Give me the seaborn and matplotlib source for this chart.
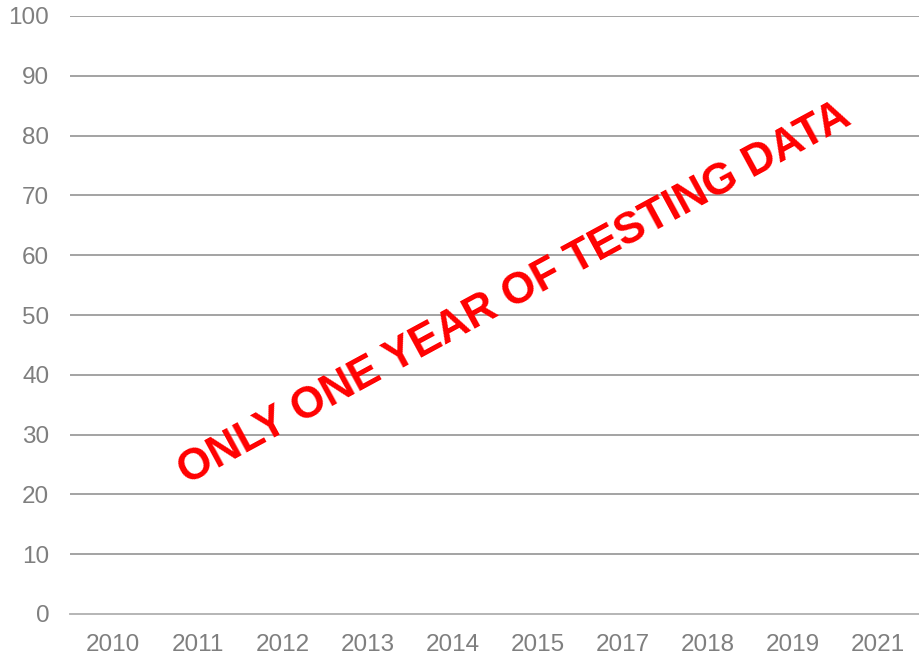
import matplotlib
matplotlib.use("Agg")
import matplotlib.pyplot as plt
import seaborn as sns
import pandas as pd

# Survey years on the category axis (no 2016 or 2020 round)
years = ["2010", "2011", "2012", "2013", "2014", "2015", "2017", "2018", "2019", "2021"]
# No testing results to plot yet: every year sits at zero
scores = [0, 0, 0, 0, 0, 0, 0, 0, 0, 0]
y_ticks = [0, 10, 20, 30, 40, 50, 60, 70, 80, 90, 100]
notice = "ONLY ONE YEAR OF TESTING DATA"

sns.set_theme(style="white")
plt.rcParams["font.family"] = ["Liberation Sans", "DejaVu Sans"]

df = pd.DataFrame({"year": years, "score": scores})

fig = plt.figure(figsize=(9.2, 6.55), dpi=100)
ax = fig.add_axes([70 / 920, 41 / 655, 850 / 920, 598 / 655])

sns.barplot(data=df, x="year", y="score", order=years, color="#4472c4",
            linewidth=0, ax=ax)

ax.set_ylim(0, 100)
ax.set_xlim(-0.5, len(years) - 0.5)
ax.set_yticks(y_ticks)
ax.set_xlabel("")
ax.set_ylabel("")

for v in y_ticks[1:]:
    ax.axhline(v, color="#8a8a8a", linewidth=1.1, zorder=0)

for side in ["top", "right", "left"]:
    ax.spines[side].set_visible(False)
ax.spines["bottom"].set_color("#b0b0b0")
ax.spines["bottom"].set_linewidth(1.3)

ax.tick_params(axis="both", length=0, labelsize=17.5, labelcolor="#7f7f7f")
ax.tick_params(axis="y", pad=15)
ax.tick_params(axis="x", pad=14.5)

ax.text(0.5235, 0.535, notice, transform=ax.transAxes, rotation=28.5,
        rotation_mode="anchor", ha="center", va="center",
        fontsize=31.5, fontweight="bold", color="#ff0000")

fig.savefig("out.png", dpi=100)
